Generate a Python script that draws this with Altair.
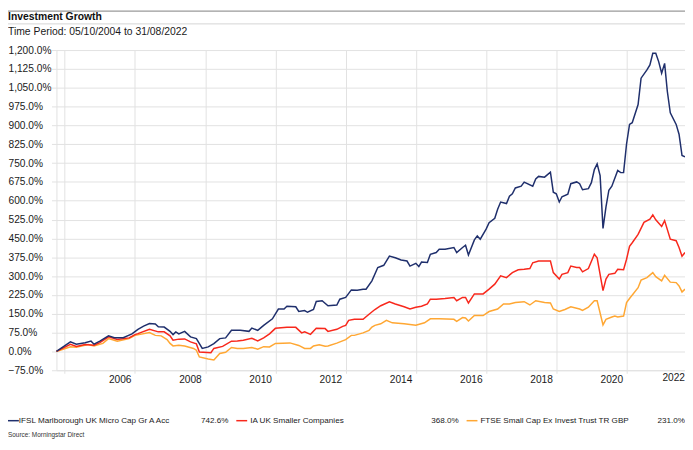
import altair as alt
import pandas as pd

FONT = "Liberation Sans"

SERIES = ["IFSL Marlborough UK Micro Cap Gr A Acc", "IA UK Smaller Companies",
          "FTSE Small Cap Ex Invest Trust TR GBP"]
COLORS = ["#1f2f6c", "#f8281c", "#ffa733"]
END_VALUES = ["742.6%", "368.0%", "231.0%"]
TITLE = "Investment Growth"
SUBTITLE = "Time Period: 05/10/2004 to 31/08/2022"
SOURCE = "Source: Morningstar Direct"
START = "2004-10-05"
END = "2022-08-31"

blue_dates = [START, "2005-02", "2005-04", "2005-07", "2005-09", "2005-10", "2005-12", "2006-03", "2006-05",
              "2006-08", "2006-11", "2007-01", "2007-03", "2007-05", "2007-07", "2007-08", "2007-10", "2007-12",
              "2008-01", "2008-02", "2008-03", "2008-05", "2008-07", "2008-09", "2008-11", "2009-01", "2009-03",
              "2009-05", "2009-07", "2009-09", "2009-12", "2010-03", "2010-04", "2010-06", "2010-08", "2010-11",
              "2011-01", "2011-03", "2011-04", "2011-07", "2011-08", "2011-10", "2011-11", "2012-01", "2012-02",
              "2012-04", "2012-06", "2012-09", "2012-10", "2012-12", "2013-02", "2013-04", "2013-06", "2013-07",
              "2013-09", "2013-11", "2014-01", "2014-03", "2014-05", "2014-07", "2014-09", "2014-10", "2014-12",
              "2015-01", "2015-02", "2015-04", "2015-05", "2015-07", "2015-08", "2015-10", "2016-01", "2016-02",
              "2016-04", "2016-05", "2016-06", "2016-08", "2016-09", "2016-10", "2016-12", "2017-01", "2017-03",
              "2017-04", "2017-05", "2017-07", "2017-08", "2017-09", "2017-10", "2017-12", "2018-01", "2018-04",
              "2018-05", "2018-06", "2018-08", "2018-10", "2018-11", "2018-12", "2019-01", "2019-02", "2019-04",
              "2019-05", "2019-07", "2019-08", "2019-09", "2019-11", "2019-12", "2020-01", "2020-02", "2020-03",
              "2020-04", "2020-05", "2020-06", "2020-07", "2020-09", "2020-10", "2020-11", "2020-12", "2021-01",
              "2021-02", "2021-04", "2021-05", "2021-07", "2021-08", "2021-09", "2021-10", "2021-11", "2021-12",
              "2022-01", "2022-02", "2022-03", "2022-05", "2022-06", "2022-07", END]
blue_values = [0, 38, 29, 35, 41, 29, 41, 62, 55,
               55, 70, 88, 101, 111, 109, 98, 97, 80,
               67, 78, 70, 80, 58, 51, 12, 18, 31,
               51, 54, 84, 84, 80, 93, 84, 104, 130,
               169, 169, 180, 178, 159, 163, 156, 167, 199,
               202, 182, 185, 208, 215, 245, 244, 248, 248,
               281, 334, 343, 380, 373, 364, 360, 340, 351,
               338, 356, 354, 387, 394, 407, 407, 414, 394,
               414, 423, 384, 444, 460, 447, 487, 513, 530,
               566, 595, 589, 618, 628, 651, 658, 674, 658,
               687, 697, 694, 714, 634, 628, 595, 616, 626,
               668, 675, 668, 644, 648, 672, 724, 747, 700,
               490, 576, 642, 658, 721, 712, 712, 826, 904,
               911, 983, 1088, 1121, 1141, 1187, 1187, 1154, 1108,
               1147, 1036, 950, 904, 865, 780, 775]

red_dates = [START, "2005-02", "2005-04", "2005-07", "2005-10", "2005-12", "2006-03", "2006-06", "2006-10",
             "2006-12", "2007-01", "2007-05", "2007-08", "2007-10", "2007-12", "2008-01", "2008-03", "2008-05",
             "2008-07", "2008-09", "2008-10", "2009-02", "2009-03", "2009-06", "2009-09", "2009-11", "2010-01",
             "2010-04", "2010-06", "2010-08", "2010-10", "2010-12", "2011-04", "2011-07", "2011-09", "2011-10",
             "2011-12", "2012-02", "2012-05", "2012-06", "2012-09", "2012-11", "2012-12", "2013-01", "2013-03",
             "2013-06", "2013-08", "2013-10", "2013-12", "2014-03", "2014-05", "2014-08", "2014-10", "2014-12",
             "2015-02", "2015-04", "2015-05", "2015-07", "2015-10", "2016-01", "2016-02", "2016-04", "2016-05",
             "2016-06", "2016-08", "2016-11", "2017-01", "2017-03", "2017-05", "2017-07", "2017-09", "2017-11",
             "2018-01", "2018-03", "2018-04", "2018-06", "2018-10", "2018-11", "2019-01", "2019-02", "2019-04",
             "2019-05", "2019-07", "2019-08", "2019-09", "2019-11", "2020-01", "2020-02", "2020-04", "2020-05",
             "2020-06", "2020-08", "2020-09", "2020-11", "2020-12", "2021-01", "2021-02", "2021-04", "2021-06",
             "2021-08", "2021-09", "2021-10", "2021-12", "2022-01", "2022-03", "2022-05", "2022-06", "2022-07",
             END]
red_values = [0, 28, 20, 28, 25, 35, 58, 48, 54,
              67, 71, 88, 78, 78, 62, 45, 49, 50,
              38, 30, -2, -5, 12, 20, 41, 42, 45,
              52, 42, 54, 70, 92, 96, 96, 74, 78,
              68, 92, 91, 80, 88, 100, 104, 124, 128,
              128, 148, 167, 182, 198, 189, 178, 169, 176,
              180, 189, 208, 208, 211, 215, 202, 215, 215,
              193, 229, 229, 248, 268, 301, 294, 314, 325,
              327, 330, 353, 360, 360, 314, 288, 307, 314,
              340, 334, 334, 317, 330, 387, 373, 242, 288,
              307, 311, 327, 325, 367, 419, 433, 466, 514,
              527, 544, 524, 498, 521, 447, 441, 414, 379,
              394]

orange_dates = [START, "2005-02", "2005-04", "2005-08", "2005-10", "2006-01", "2006-03", "2006-06", "2006-10",
                "2006-12", "2007-05", "2007-07", "2007-09", "2007-11", "2007-12", "2008-01", "2008-03", "2008-05",
                "2008-08", "2008-09", "2008-10", "2009-01", "2009-03", "2009-05", "2009-07", "2009-09", "2009-11",
                "2010-01", "2010-04", "2010-06", "2010-08", "2010-10", "2010-12", "2011-05", "2011-08", "2011-10",
                "2011-12", "2012-01", "2012-03", "2012-05", "2012-06", "2012-09", "2012-12", "2013-02", "2013-03",
                "2013-06", "2013-08", "2013-09", "2013-10", "2013-12", "2014-02", "2014-04", "2014-08", "2014-12",
                "2015-03", "2015-05", "2015-08", "2016-01", "2016-02", "2016-04", "2016-05", "2016-06", "2016-08",
                "2016-11", "2017-01", "2017-04", "2017-06", "2017-08", "2017-10", "2018-01", "2018-03", "2018-05",
                "2018-08", "2018-10", "2018-11", "2019-01", "2019-03", "2019-05", "2019-08", "2019-09", "2019-11",
                "2020-01", "2020-02", "2020-04", "2020-05", "2020-07", "2020-08", "2020-09", "2020-11", "2020-12",
                "2021-01", "2021-04", "2021-05", "2021-07", "2021-09", "2021-10", "2021-12", "2022-01", "2022-03",
                "2022-05", "2022-06", "2022-07", END]
orange_values = [0, 19, 17, 28, 22, 32, 51, 41, 51,
                 64, 75, 64, 62, 47, 32, 22, 25, 22,
                 12, 5, -22, -30, -34, -8, -3, 16, 12,
                 12, 16, 9, 19, 18, 32, 34, 24, 12,
                 12, 22, 27, 21, 22, 33, 47, 64, 64,
                 74, 84, 97, 104, 110, 124, 114, 110, 104,
                 114, 130, 130, 128, 120, 135, 133, 121, 143,
                 143, 159, 169, 189, 189, 195, 198, 185, 202,
                 195, 193, 169, 159, 167, 178, 169, 163, 176,
                 202, 202, 106, 128, 137, 141, 137, 141, 195,
                 211, 254, 284, 294, 314, 298, 281, 303, 276,
                 274, 261, 237, 248]

Y_TICKS = list(range(-75, 1201, 75))
GRID_YEARS = list(range(2004, 2021, 2))


def to_iso(s):
    d = pd.to_datetime(s)
    if len(s) == 7:
        d = d + pd.offsets.MonthEnd(0)
    return d.strftime("%Y-%m-%d")


def series_df(dates, values, name):
    return pd.DataFrame({"date": [to_iso(s) for s in dates], "value": values, "series": name})


W, H = 636, 324
GRID = "#e2e2e2"
TXT = "#1a1a1a"

x_enc = alt.X(
    "date:T",
    scale=alt.Scale(type="utc", domain=[alt.DateTime(year=2004, month=10, date=5, utc=True),
                                        alt.DateTime(year=2022, month=8, date=31, utc=True)]),
    axis=alt.Axis(
        values=[alt.DateTime(year=y, month=12, date=31, utc=True) for y in GRID_YEARS],
        labelExpr="utcyear(datum.value) == 2004 ? '' : utcFormat(datum.value, '%Y')",
        labelAlign="right", labelOffset=-4, labelPadding=1, tickSize=3,
        labelFont=FONT, labelFontSize=10.3, labelColor=TXT, labelOverlap=False, labelFlush=False,
        gridColor=GRID, domainColor=GRID, tickColor=GRID, title=None,
    ),
)
y_enc = alt.Y(
    "value:Q",
    scale=alt.Scale(domain=[-75, 1200], nice=False, zero=False),
    axis=alt.Axis(
        values=Y_TICKS, labelExpr="format(datum.value, ',.1f') + '%'",
        labelAlign="left", labelBaseline="middle", labelPadding=44, tickSize=5,
        labelFont=FONT, labelFontSize=10.3, labelColor=TXT, labelOverlap=False, labelFlush=False,
        gridColor=GRID, domainColor=GRID, tickColor=GRID, title=None,
    ),
)

layers = []
for dates, values, name, color in [(orange_dates, orange_values, SERIES[2], COLORS[2]),
                                   (red_dates, red_values, SERIES[1], COLORS[1]),
                                   (blue_dates, blue_values, SERIES[0], COLORS[0])]:
    layers.append(
        alt.Chart(series_df(dates, values, name)).mark_line(color=color, strokeWidth=1.5).encode(x=x_enc, y=y_enc)
    )

one = pd.DataFrame({"k": [0]})


def text(t, x, y, size, weight="normal", align="left", color=TXT):
    return alt.Chart(pd.DataFrame({"t": [t]})).mark_text(
        align=align, baseline="middle", font=FONT, fontSize=size, fontWeight=weight, color=color
    ).encode(x=alt.value(x), y=alt.value(y), text="t:N")


def hrule(x1, x2, y, color, width):
    return alt.Chart(one).mark_rule(color=color, strokeWidth=width).encode(
        x=alt.value(x1), x2=alt.value(x2), y=alt.value(y))


deco = [
    hrule(-49, W, -39.4, "#9a9a9a", 1.2),
    text(TITLE, -49, -33, 10.5, weight="bold", color="#111111"),
    hrule(-49, W, -26.5, "#d6d6d6", 1),
    text(SUBTITLE, -49, -18, 10.5),
    text("2022", W, 332, 10.3, align="right"),
]

leg_y = 375
legend_specs = [(-49, -38, 174), (182, 196, 407), (415, 429, W)]
for i, (lx, tx, vx) in enumerate(legend_specs):
    deco.append(hrule(lx, lx + 11, leg_y, COLORS[i], 1.5))
    deco.append(text(SERIES[i], tx, leg_y, 8.2))
    deco.append(text(END_VALUES[i], vx, leg_y, 8.2, align="right"))
deco.append(text(SOURCE, -49, 390, 6.5, color="#333333"))

chart = alt.layer(*layers, *deco).properties(
    width=W, height=H,
    autosize=alt.AutoSizeParams(type="none"),
    padding={"left": 49, "top": 40, "right": 0, "bottom": 70},
).configure_view(stroke=None)

chart.save("out.html", embed_options={"renderer": "svg", "actions": False})
